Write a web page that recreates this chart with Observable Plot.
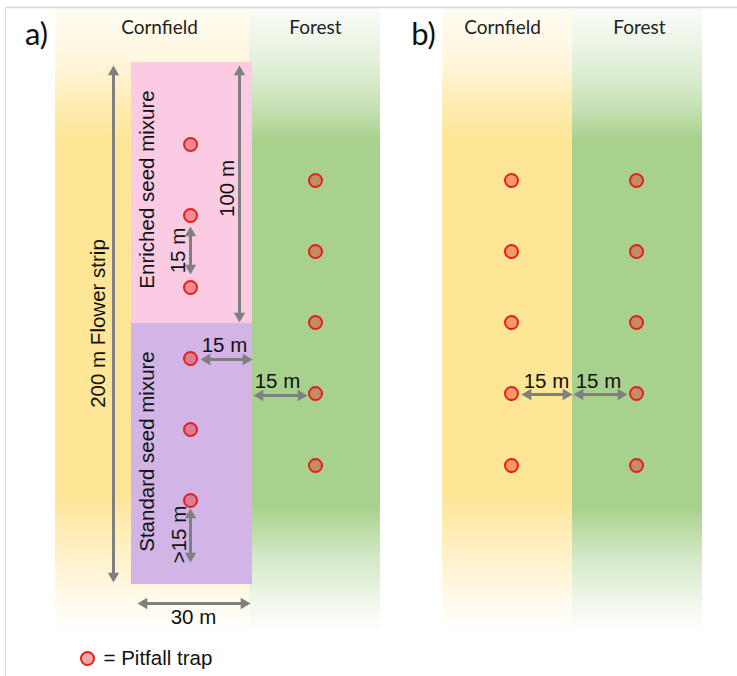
<!DOCTYPE html>
<html><head><meta charset="utf-8">
<script src="https://cdn.jsdelivr.net/npm/d3@7"></script>
<script src="https://cdn.jsdelivr.net/npm/@observablehq/plot@0.6"></script>
<style>html,body{margin:0;padding:0;background:#fff;overflow:hidden}</style>
</head><body><div id="chart"></div>
<script>
// ---- Diagram data (diagram units, y grows downward) ----
const panelLetters = [
  {label: "a)", x: 36, y: 35},
  {label: "b)", x: 423, y: 35}
];
const habitats = [
  {panel: "a", habitat: "Cornfield", x1: 55, x2: 249, y1: 8, y2: 632},
  {panel: "a", habitat: "Forest", x1: 249, x2: 380, y1: 8, y2: 632},
  {panel: "b", habitat: "Cornfield", x1: 442, x2: 572, y1: 8, y2: 632},
  {panel: "b", habitat: "Forest", x1: 572, x2: 702, y1: 8, y2: 632}
];
const habitatLabels = [
  {label: "Cornfield", x: 159, y: 27},
  {label: "Forest", x: 315, y: 27},
  {label: "Cornfield", x: 502, y: 27},
  {label: "Forest", x: 639, y: 27}
];
const seedMixtures = [
  {mixture: "Enriched seed mixure", x1: 131, x2: 252, y1: 62, y2: 323},
  {mixture: "Standard seed mixure", x1: 131, x2: 252, y1: 323, y2: 584}
];
const mixtureLabels = [
  {label: "Enriched seed mixure", x: 147, y: 189},
  {label: "Standard seed mixure", x: 147, y: 451}
];
const traps = [
  {panel: "a", x: 190, y: 144}, {panel: "a", x: 190, y: 215}, {panel: "a", x: 190, y: 287},
  {panel: "a", x: 190, y: 358}, {panel: "a", x: 190, y: 429}, {panel: "a", x: 190, y: 500},
  {panel: "a", x: 315, y: 180}, {panel: "a", x: 315, y: 251}, {panel: "a", x: 315, y: 322},
  {panel: "a", x: 315, y: 393}, {panel: "a", x: 315, y: 465},
  {panel: "b", x: 511, y: 180}, {panel: "b", x: 511, y: 251}, {panel: "b", x: 511, y: 322},
  {panel: "b", x: 511, y: 393}, {panel: "b", x: 511, y: 465},
  {panel: "b", x: 636, y: 180}, {panel: "b", x: 636, y: 251}, {panel: "b", x: 636, y: 322},
  {panel: "b", x: 636, y: 393}, {panel: "b", x: 636, y: 465}
];
const distances = [
  {label: "200 m Flower strip", x1: 113, y1: 65, x2: 113, y2: 582},
  {label: "100 m", x1: 239, y1: 65, x2: 239, y2: 322},
  {label: "15 m", x1: 190, y1: 226, x2: 190, y2: 274},
  {label: ">15 m", x1: 190, y1: 508, x2: 190, y2: 562},
  {label: "15 m", x1: 200, y1: 359, x2: 252, y2: 359},
  {label: "15 m", x1: 253, y1: 395, x2: 307, y2: 395},
  {label: "30 m", x1: 137, y1: 603, x2: 250, y2: 603},
  {label: "15 m", x1: 521, y1: 394, x2: 572, y2: 394},
  {label: "15 m", x1: 573, y1: 394, x2: 627, y2: 394}
];
const verticalLabels = [
  {label: "200 m Flower strip", x: 98, y: 323},
  {label: "100 m", x: 227, y: 188},
  {label: "15 m", x: 178, y: 250},
  {label: ">15 m", x: 179, y: 534}
];
const horizontalLabels = [
  {label: "15 m", x: 224, y: 345},
  {label: "15 m", x: 277, y: 381},
  {label: "30 m", x: 193, y: 617},
  {label: "15 m", x: 546, y: 381},
  {label: "15 m", x: 598, y: 381}
];
const legendItems = [{label: "= Pitfall trap", x: 87, y: 658}];
const frame = [
  {x1: 5, y1: 7, x2: 737, y2: 7},
  {x1: 5, y1: 7, x2: 5, y2: 676}
];

// ---- derived arrow heads ----
const HEAD_R = 4.2;
const heads = [];
const shafts = distances.map(d => {
  const len = Math.hypot(d.x2 - d.x1, d.y2 - d.y1);
  const ux = (d.x2 - d.x1) / len, uy = (d.y2 - d.y1) / len;
  const tipOff = 1.555 * HEAD_R;
  const ang = Math.atan2(uy, ux) * 180 / Math.PI + 90;
  heads.push({x: d.x2 - ux * tipOff, y: d.y2 - uy * tipOff, angle: ang});
  heads.push({x: d.x1 + ux * tipOff, y: d.y1 + uy * tipOff, angle: ang + 180});
  return {x1: d.x1 + ux * tipOff, y1: d.y1 + uy * tipOff, x2: d.x2 - ux * tipOff, y2: d.y2 - uy * tipOff};
});

const ARIAL = "Liberation Sans, Arial, sans-serif";
const HEAD_FONT = "Lato, 'Open Sans', sans-serif";
const GRAY = "#7f7f7f";

const plot = Plot.plot({
  width: 737, height: 676, margin: 0,
  x: {domain: [0, 737], range: [0, 737], axis: null},
  y: {domain: [0, 676], range: [0, 676], axis: null},
  style: {background: "white"},
  marks: [
    Plot.rect(habitats.filter(d => d.habitat === "Cornfield"), {x1: "x1", x2: "x2", y1: "y1", y2: "y2", fill: "url(#gCorn)"}),
    Plot.rect(habitats.filter(d => d.habitat === "Forest"), {x1: "x1", x2: "x2", y1: "y1", y2: "y2", fill: "url(#gForest)"}),
    Plot.rect(seedMixtures.slice(0, 1), {x1: "x1", x2: "x2", y1: "y1", y2: "y2", fill: "#fbcbe3"}),
    Plot.rect(seedMixtures.slice(1), {x1: "x1", x2: "x2", y1: "y1", y2: "y2", fill: "#d2b4e6"}),
    Plot.link(frame, {x1: "x1", y1: "y1", x2: "x2", y2: "y2", stroke: "#d9d9d9", strokeWidth: 1.3}),
    Plot.link(shafts, {x1: "x1", y1: "y1", x2: "x2", y2: "y2", stroke: GRAY, strokeWidth: 3}),
    Plot.dot(heads, {x: "x", y: "y", rotate: "angle", symbol: "triangle", r: HEAD_R, fill: GRAY, stroke: "none"}),
    Plot.dot(traps, {x: "x", y: "y", r: 6.5, fill: "#e8302a", fillOpacity: 0.42, stroke: "#e3201c", strokeWidth: 2}),
    Plot.dot(legendItems, {x: "x", y: "y", r: 6.5, fill: "#e8302a", fillOpacity: 0.42, stroke: "#e3201c", strokeWidth: 2}),
    Plot.text(legendItems, {x: d => d.x + 16, y: "y", text: "label", textAnchor: "start", lineAnchor: "middle", fontFamily: ARIAL, fontSize: 20.5, fill: "#111"}),
    Plot.text(panelLetters, {x: "x", y: "y", text: "label", lineAnchor: "middle", fontFamily: HEAD_FONT, fontSize: 31, fill: "#111"}),
    Plot.text(habitatLabels, {x: "x", y: "y", text: "label", lineAnchor: "middle", fontFamily: HEAD_FONT, fontSize: 19, fill: "#222"}),
    Plot.text(mixtureLabels, {x: "x", y: "y", text: "label", rotate: -90, lineAnchor: "middle", fontFamily: ARIAL, fontSize: 20.5, fill: "#111"}),
    Plot.text(verticalLabels, {x: "x", y: "y", text: "label", rotate: -90, lineAnchor: "middle", fontFamily: ARIAL, fontSize: 20.5, fill: "#111"}),
    Plot.text(horizontalLabels, {x: "x", y: "y", text: "label", lineAnchor: "middle", fontFamily: ARIAL, fontSize: 20.5, fill: "#111"})
  ]
});

// gradient definitions (style only)
const svgNS = "http://www.w3.org/2000/svg";
const defs = document.createElementNS(svgNS, "defs");
function grad(id, color, stops) {
  const g = document.createElementNS(svgNS, "linearGradient");
  g.setAttribute("id", id);
  g.setAttribute("x1", "0"); g.setAttribute("y1", "0");
  g.setAttribute("x2", "0"); g.setAttribute("y2", "1");
  stops.forEach(([o, a]) => {
    const s = document.createElementNS(svgNS, "stop");
    s.setAttribute("offset", o);
    s.setAttribute("stop-color", color);
    s.setAttribute("stop-opacity", a);
    g.appendChild(s);
  });
  defs.appendChild(g);
}
grad("gCorn", "#ffe596", [[0, 0.12], [0.08, 0.3], [0.14, 0.65], [0.21, 1], [0.78, 1], [0.88, 0.5], [0.95, 0.18], [1, 0]]);
grad("gForest", "#a9d18e", [[0, 0.06], [0.08, 0.3], [0.15, 0.6], [0.21, 1], [0.8, 1], [0.88, 0.5], [0.95, 0.18], [1, 0]]);
plot.insertBefore(defs, plot.firstChild);
document.getElementById("chart").appendChild(plot);
</script>
</body></html>
